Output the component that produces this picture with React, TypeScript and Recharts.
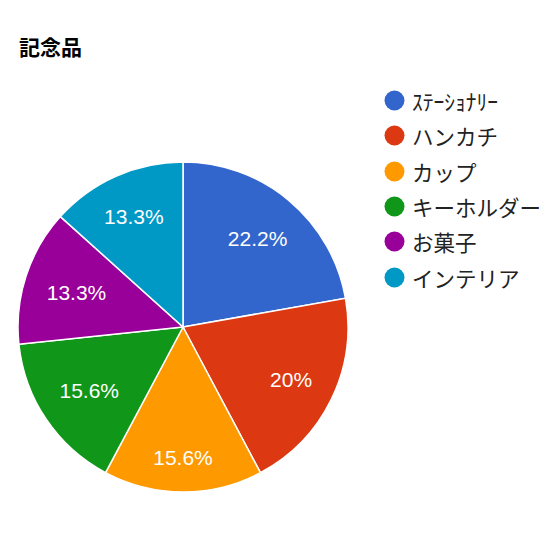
import React from "react";
import { PieChart, Pie, Cell, Legend } from "recharts";

const categories = ["ｽﾃｰｼｮﾅﾘｰ", "ハンカチ", "カップ", "キーホルダー", "お菓子", "インテリア"];
const counts = [10, 9, 7, 7, 6, 6];
const colors = ["#3366cc", "#dc3912", "#ff9900", "#109618", "#990099", "#0099c6"];

const data = categories.map((name, i) => ({ name, value: counts[i] }));

const LABEL_FONT = 21;
const RAD = Math.PI / 180;

function fmtPercent(p: number) {
  const v = Math.round(p * 1000) / 10;
  return (Number.isInteger(v) ? v.toFixed(0) : v.toFixed(1)) + "%";
}

function textWidth(s: string) {
  let w = 0;
  for (const ch of s) {
    if (ch === ".") w += 0.278;
    else if (ch === "%") w += 0.889;
    else w += 0.556;
  }
  return w * LABEL_FONT;
}

// place label so its farthest corner sits at a fixed fraction of the radius
function renderLabel(props: any) {
  const { cx, cy, midAngle, outerRadius, percent } = props;
  const text = fmtPercent(percent);
  const ux = Math.cos(-midAngle * RAD);
  const uy = Math.sin(-midAngle * RAD);
  const a = (ux >= 0 ? 1 : -1) * (textWidth(text) / 2);
  const b = (uy >= 0 ? 1 : -1) * 9;
  const lim = outerRadius * 0.867;
  const p = ux * a + uy * b;
  const d = -p + Math.sqrt(p * p - (a * a + b * b - lim * lim));
  const x = cx + d * ux;
  const y = cy + d * uy;
  return (
    <text
      x={x}
      y={y}
      fill="#ffffff"
      fontSize={LABEL_FONT}
      fontFamily="'Liberation Sans', Arial, sans-serif"
      textAnchor="middle"
      dominantBaseline="central"
    >
      {text}
    </text>
  );
}

function LegendList() {
  return (
    <div>
      {categories.map((c, i) => (
        <div
          key={c}
          style={{ display: "flex", alignItems: "center", height: 35.3 }}
        >
          <svg width={21} height={21} style={{ marginRight: 7 }}>
            <circle cx={10.5} cy={10.5} r={10} fill={colors[i]} />
          </svg>
          <span
            style={{
              fontFamily: "'Noto Sans CJK JP', sans-serif",
              fontSize: 21.5,
              color: "#222222",
              whiteSpace: "nowrap",
            }}
          >
            {c}
          </span>
        </div>
      ))}
    </div>
  );
}

export default function App() {
  return (
    <div
      style={{
        position: "fixed",
        left: 0,
        top: 0,
        width: 554,
        height: 556,
        background: "#ffffff",
      }}
    >
      <div
        style={{
          position: "absolute",
          left: 19,
          top: 32,
          fontFamily: "'Noto Sans CJK JP', sans-serif",
          fontWeight: 700,
          fontSize: 21,
          lineHeight: "28px",
          color: "#000000",
        }}
      >
        記念品
      </div>
      <PieChart
        width={554}
        height={556}
        margin={{ top: 0, right: 0, bottom: 0, left: 0 }}
      >
        <Pie
          data={data}
          dataKey="value"
          nameKey="name"
          cx={183}
          cy={327}
          outerRadius={165}
          startAngle={90}
          endAngle={-270}
          stroke="#ffffff"
          strokeWidth={1.5}
          label={renderLabel}
          labelLine={false}
          isAnimationActive={false}
        >
          {data.map((d, i) => (
            <Cell key={d.name} fill={colors[i]} />
          ))}
        </Pie>
        <Legend
          layout="vertical"
          align="right"
          verticalAlign="top"
          content={() => <LegendList />}
          wrapperStyle={{ left: 384, top: 83, width: 170 }}
        />
      </PieChart>
    </div>
  );
}
